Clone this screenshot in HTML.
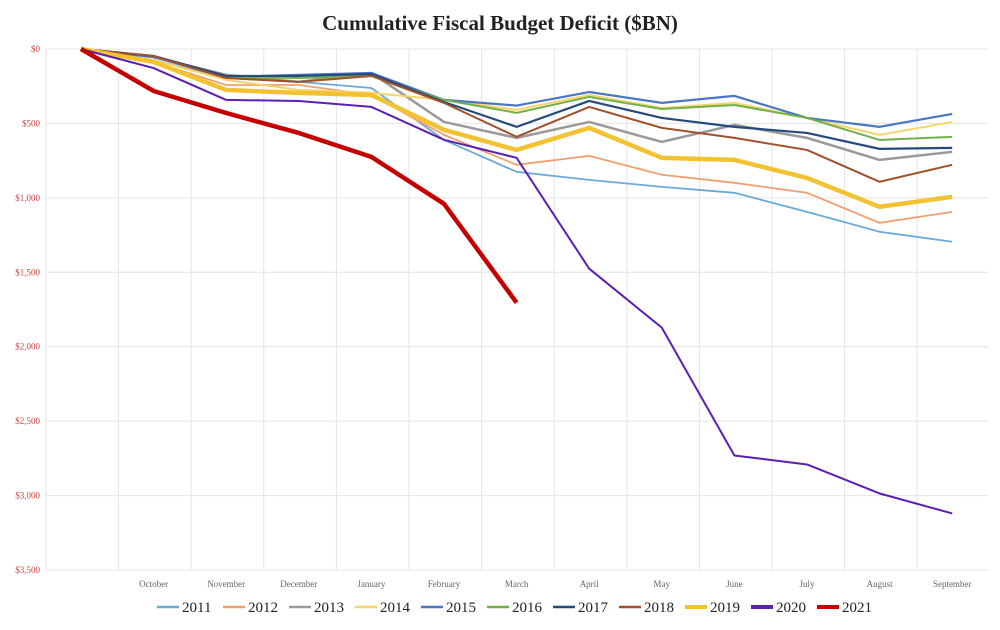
<!DOCTYPE html>
<html><head><meta charset="utf-8"><style>
body{margin:0;background:#fff;}
#c{position:absolute;left:0;top:0;}
</style></head><body>
<svg id="c" width="1000" height="630">
<rect width="1000" height="630" fill="#fff"/>
<text x="500" y="30" text-anchor="middle" font-family="Liberation Serif, serif" font-weight="bold" font-size="21" fill="#222">Cumulative Fiscal Budget Deficit ($BN)</text>
<g id="grid"></g><g id="lines"></g><g id="legend"></g>
</svg>
<script>
const categories=["","October","November","December","January","February","March","April","May","June","July","August","September"];
const yTicks=[0,500,1000,1500,2000,2500,3000,3500];
const yTickLabels=["$0","$500","$1,000","$1,500","$2,000","$2,500","$3,000","$3,500"];
const seriesNames=["2011","2012","2013","2014","2015","2016","2017","2018","2019","2020","2021"];
const s2011=[0,74,195,221,262,611,825,879,926,966,1094,1228,1295];
const s2012=[0,87,242,242,309,577,778,718,845,899,966,1168,1094];
const s2013=[0,54,174,221,161,490,597,490,624,510,597,745,691];
const s2014=[0,74,208,275,295,342,409,309,396,362,463,577,490];
const s2015=[0,54,188,174,161,342,380,289,362,315,463,523,436];
const s2016=[0,47,188,195,181,342,429,322,403,376,463,611,590];
const s2017=[0,47,181,181,168,356,523,349,463,523,564,671,664];
const s2018=[0,47,195,221,181,362,590,389,530,597,678,892,778];
const s2019=[0,87,275,295,309,543,678,530,731,745,866,1060,993];
const s2020=[0,128,342,349,389,610,731,1476,1872,2731,2791,2986,3120];
const s2021=[0,282,430,564,725,1040,1704];
const seriesData=[s2011,s2012,s2013,s2014,s2015,s2016,s2017,s2018,s2019,s2020,s2021];
const colors=["#6aaad8","#f0a070","#9a9a9a","#f5d56a","#4a76c4","#72b04c","#274a7e","#a0502a","#f2c230","#5a1fb5","#c40000"];
const widths=[1.8,1.8,2.5,2,2.2,2,2.2,2,4.5,2,4.5];
const NS="http://www.w3.org/2000/svg";
const pLeft=46,pRight=988,pTop=49,pBottom=570;
const xs=i=>81+i*72.6;
const ys=v=>pTop+(v/3500)*(pBottom-pTop);
function mk(t,a,p){const e=document.createElementNS(NS,t);for(const k in a)e.setAttribute(k,a[k]);p.appendChild(e);return e;}
const grid=document.getElementById('grid');
yTicks.forEach((v,i)=>{
 const l=mk('line',{x1:pLeft,x2:pRight,y1:ys(v),y2:ys(v),stroke:"#e4e4e4","stroke-width":1},grid);
 
 
 const t=mk('text',{x:40,y:ys(v)+3,"text-anchor":"end","font-family":"Liberation Serif, serif","font-size":9,fill:"#d04040"},grid);
 t.textContent=yTickLabels[i];
 
 
});
for(let i=0;i<=categories.length;i++){
 const gx=pLeft+i*72.6;if(gx>pRight+1)break;
 const l=mk('line',{x1:gx,x2:gx,y1:pTop,y2:pBottom,stroke:"#e4e4e4","stroke-width":1},grid);
 
 
}
categories.forEach((c,i)=>{
 if(!c)return;
 const t=mk('text',{x:xs(i),y:587,"text-anchor":"middle","font-family":"Liberation Serif, serif","font-size":9,fill:"#666"},grid);
 t.textContent=c;
 
 
});
const lines=document.getElementById('lines');
seriesData.forEach((d,si)=>{
 const pts=d.map((v,i)=>xs(i)+","+ys(v)).join(" ");
 const p=mk('polyline',{points:pts,fill:"none",stroke:colors[si],"stroke-width":widths[si],"stroke-linejoin":"round"},lines);
 
 
});
const leg=document.getElementById('legend');
let lx=157;
seriesNames.forEach((n,i)=>{
 const sw=mk('line',{x1:lx,x2:lx+22,y1:607,y2:607,stroke:colors[i],"stroke-width":i>=8?4:2.5},leg);
 
 
 const t=mk('text',{x:lx+25,y:612,"font-family":"Liberation Serif, serif","font-size":15,fill:"#222"},leg);
 t.textContent=n;
 
 
 lx+=66;
});
</script>
</body></html>
